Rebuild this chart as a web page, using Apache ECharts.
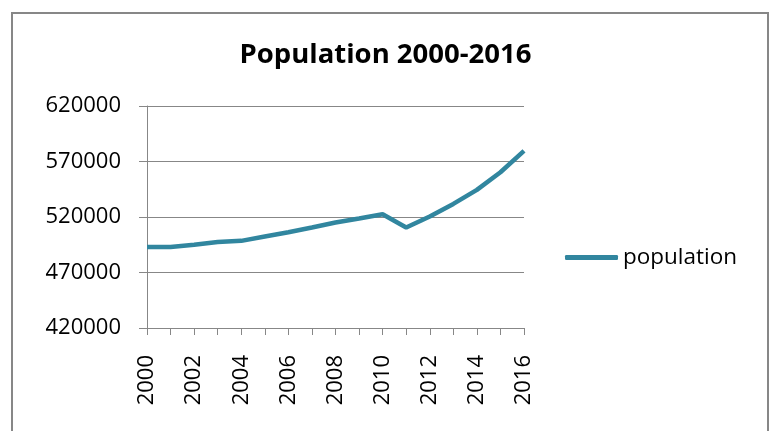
<!DOCTYPE html>
<html>
<head>
<meta charset="utf-8">
<script src="https://cdn.jsdelivr.net/npm/echarts@6/dist/echarts.min.js"></script>
<style>html,body{margin:0;padding:0;background:#fff}#c{width:771px;height:431px}</style>
</head>
<body>
<div id="c"></div>
<script>
var years = ['2000','2001','2002','2003','2004','2005','2006','2007','2008','2009','2010','2011','2012','2013','2014','2015','2016'];
var population = [493000, 493000, 495000, 497400, 498500, 502400, 506300, 510500, 515000, 518600, 522500, 510500, 520400, 531800, 544400, 560300, 579500];
var yMin = 420000, yMax = 620000, yStep = 50000;
var titleText = 'Population 2000-2016';
var seriesName = 'population';

var chart = echarts.init(document.getElementById('c'), null, {renderer:'canvas'});
var font = '"Open Sans", sans-serif';
chart.setOption({
  animation: false,
  backgroundColor: '#fff',
  graphic: [{
    type: 'rect', shape: {x: 12, y: 13, width: 756, height: 440},
    style: {fill: 'none', stroke: '#878787', lineWidth: 2}, z: -1
  }],
  title: {
    text: titleText, left: 'center', top: 36,
    textStyle: {fontFamily: font, fontWeight: 'bold', fontSize: 27.5, color: '#000'}
  },
  legend: {
    data: [seriesName], left: 560, top: 241, icon: 'roundRect', itemWidth: 53, itemHeight: 5,
    textStyle: {fontFamily: font, fontSize: 22.5, color: '#000'}
  },
  grid: {left: 147, right: 247, top: 106, bottom: 103, containLabel: false},
  xAxis: {
    type: 'category', data: years, boundaryGap: false,
    axisLine: {lineStyle: {color: '#878787', width: 1}},
    axisTick: {show: true, length: 7, interval: 0, lineStyle: {color: '#878787'}},
    axisLabel: {rotate: 90, interval: 1, margin: 27, fontFamily: font, fontSize: 22, color: '#000'}
  },
  yAxis: {
    type: 'value', min: yMin, max: yMax, interval: yStep,
    axisLine: {show: true, lineStyle: {color: '#878787', width: 1}},
    axisTick: {show: true, length: 8, lineStyle: {color: '#878787'}},
    splitLine: {lineStyle: {color: '#878787', width: 1}},
    axisLabel: {margin: 26, fontFamily: font, fontSize: 22, color: '#000', formatter: function (v) { return String(v); }}
  },
  series: [{
    name: seriesName, type: 'line', data: population, showSymbol: false, symbol: 'none',
    lineStyle: {color: '#31869f', width: 4.5}, itemStyle: {color: '#31869f'}
  }]
});
</script>
</body>
</html>
